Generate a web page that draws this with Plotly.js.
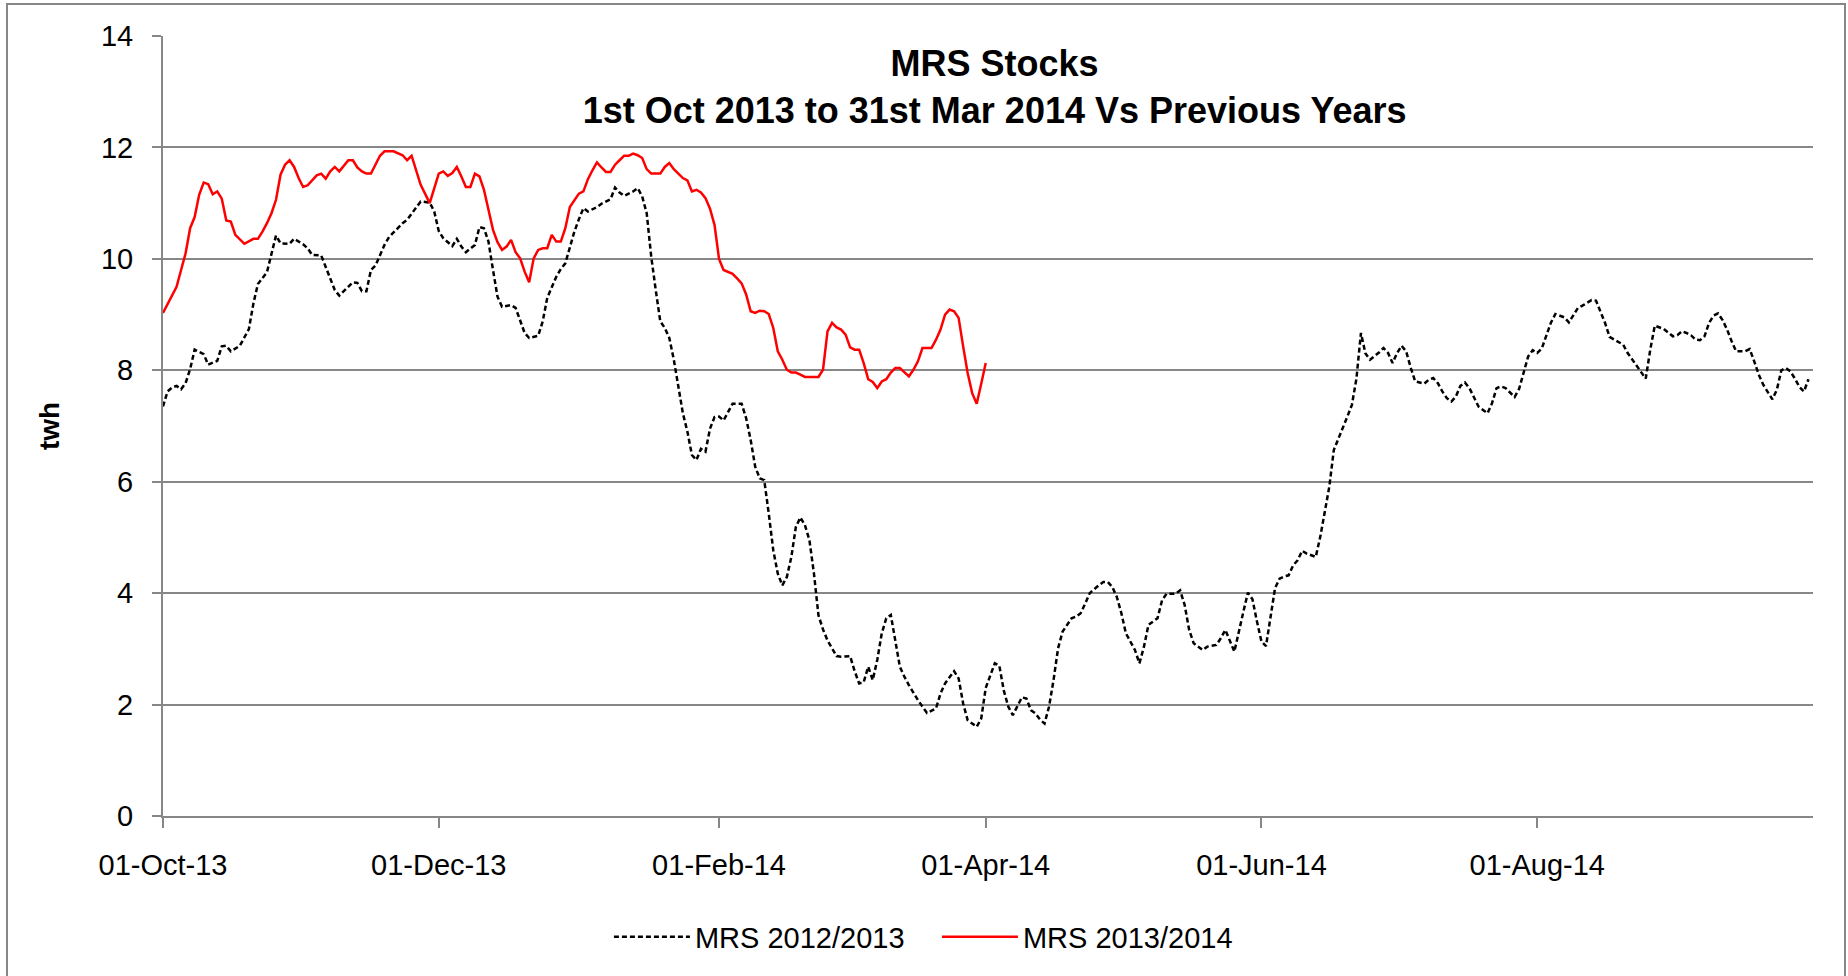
<!DOCTYPE html>
<html>
<head>
<meta charset="utf-8">
<script src="https://cdn.plot.ly/plotly-3.0.1.min.js"></script>
<style>
  html, body { margin: 0; padding: 0; background: #ffffff; }
  #wrap { position: relative; width: 1848px; height: 976px; overflow: hidden; }
  #chart { position: absolute; left: 0; top: 0; width: 1848px; height: 976px; }
  #frame { position: absolute; left: 6px; top: 3px; width: 1836px; height: 1000px;
           border: 2px solid #878787; pointer-events: none; }
</style>
</head>
<body>
<div id="wrap">
  <div id="chart"></div>
  <div id="frame"></div>
</div>
<script>
// ---- DATA ----
const startDate = "2013-10-01";           // day offset 0
const seriesNames = ["MRS 2012/2013", "MRS 2013/2014"];
const yTickValues = [0, 2, 4, 6, 8, 10, 12, 14];
const xTickDates = ["2013-10-01", "2013-12-01", "2014-02-01", "2014-04-01", "2014-06-01", "2014-08-01"];

// MRS 2012/2013 (black dashed) : day offsets from startDate and stock values (twh)
const days1213 = [0,1,2,3,4,5,6,7,9,10,12,13,14,15,17,18,19,20,21,23,24,25,26,28,29,31,32,33,35,36,38,39,40,42,43,44,45,46,47,49,50,52,53,54,56,57,59,60,61,62,64,65,66,67,69,70,71,72,73,74,75,77,78,79,80,81,83,84,85,87,88,89,90,91,92,93,94,96,97,99,100,101,102,104,105,106,107,108,109,110,111,112,113,114,115,116,117,118,119,120,121,122,123,124,125,126,128,129,130,131,132,133,134,135,136,137,138,139,140,141,142,143,144,145,146,147,148,149,150,152,153,154,155,156,157,158,159,160,161,162,163,164,165,167,168,169,171,172,173,174,175,176,177,178,180,181,182,184,185,186,187,188,189,190,191,192,193,194,195,196,197,198,199,201,202,203,204,205,207,208,209,210,211,212,213,215,216,217,218,220,221,222,224,225,226,227,228,230,231,233,234,235,237,238,239,240,241,242,243,244,245,246,247,248,249,250,251,252,253,255,256,257,258,259,260,261,262,263,264,265,266,267,268,269,270,271,272,273,274,275,276,277,279,280,281,282,283,284,285,286,287,288,289,290,291,293,294,295,296,297,299,300,301,302,303,304,305,306,307,308,310,311,312,313,314,316,317,318,319,320,321,322,323,324,325,326,327,328,329,330,332,333,334,335,336,337,338,339,340,341,342,343,344,345,346,347,348,350,351,352,353,354,356,357,358,359,360,361,362,363,364];
const values1213 = [7.35,7.62,7.69,7.72,7.66,7.77,8.02,8.37,8.29,8.10,8.17,8.43,8.44,8.34,8.44,8.58,8.74,9.20,9.55,9.76,10.10,10.42,10.28,10.27,10.36,10.26,10.19,10.07,10.06,9.86,9.44,9.34,9.42,9.58,9.57,9.42,9.42,9.80,9.88,10.25,10.39,10.55,10.64,10.70,10.93,11.03,11.01,10.85,10.50,10.37,10.23,10.36,10.22,10.12,10.25,10.57,10.55,10.31,9.80,9.32,9.14,9.17,9.12,8.90,8.67,8.58,8.62,8.88,9.30,9.68,9.82,9.92,10.22,10.49,10.71,10.91,10.85,10.93,10.99,11.07,11.28,11.19,11.13,11.21,11.27,11.12,10.82,10.04,9.44,8.88,8.76,8.58,8.19,7.71,7.23,6.90,6.48,6.39,6.59,6.54,6.95,7.16,7.17,7.10,7.26,7.40,7.40,7.14,6.75,6.27,6.06,6.03,5.43,4.77,4.35,4.14,4.29,4.65,5.19,5.36,5.22,4.95,4.35,3.60,3.35,3.15,3.01,2.87,2.86,2.87,2.60,2.38,2.40,2.68,2.44,2.80,3.28,3.55,3.61,3.16,2.68,2.50,2.35,2.08,1.96,1.85,1.93,2.20,2.38,2.50,2.60,2.47,2.02,1.72,1.60,1.75,2.30,2.74,2.70,2.25,1.96,1.81,1.98,2.13,2.11,1.90,1.84,1.73,1.66,1.96,2.44,3.01,3.31,3.55,3.58,3.64,3.81,4.00,4.14,4.20,4.20,4.11,3.93,3.64,3.28,2.98,2.74,3.04,3.43,3.55,3.87,3.99,3.99,4.05,3.79,3.34,3.10,2.98,3.04,3.07,3.19,3.34,2.95,3.34,3.67,4.01,3.89,3.49,3.13,3.05,3.60,4.09,4.26,4.30,4.32,4.50,4.59,4.76,4.71,4.65,5.01,5.43,5.91,6.57,6.76,6.96,7.17,7.38,7.85,8.67,8.30,8.19,8.25,8.32,8.40,8.31,8.13,8.31,8.44,8.34,8.05,7.80,7.76,7.83,7.86,7.77,7.62,7.50,7.44,7.53,7.72,7.78,7.68,7.50,7.35,7.23,7.41,7.68,7.71,7.68,7.52,7.67,7.95,8.25,8.36,8.31,8.39,8.62,8.85,9.01,8.95,8.86,9.00,9.12,9.16,9.26,9.25,9.05,8.85,8.60,8.55,8.50,8.46,8.31,8.19,8.07,7.96,7.85,8.37,8.80,8.74,8.67,8.61,8.63,8.70,8.67,8.63,8.55,8.54,8.61,8.85,8.98,9.02,8.90,8.73,8.52,8.34,8.34,8.38,8.16,7.92,7.74,7.48,7.65,8.00,8.04,7.98,7.85,7.70,7.62,7.84];

// MRS 2013/2014 (red solid)
const days1314 = [0,3,4,5,6,7,8,9,10,11,12,13,14,15,16,18,20,21,22,23,24,25,26,27,28,29,30,31,32,33,34,35,36,37,38,39,40,41,42,43,44,45,46,47,48,49,51,53,54,55,56,57,59,60,61,62,63,64,65,66,67,68,69,70,71,72,73,74,75,76,77,78,79,80,81,82,83,84,85,86,87,88,89,90,92,93,94,95,96,97,98,99,100,101,102,103,104,105,106,107,108,110,111,112,113,114,115,116,117,118,119,120,121,122,123,124,125,126,127,128,129,130,131,132,133,134,135,136,137,138,139,140,141,142,145,146,147,148,149,150,151,152,153,154,155,156,157,158,159,160,161,162,163,164,165,166,167,168,170,171,172,173,174,175,176,177,178,179,180,181,182];
const values1314 = [9.03,9.50,9.80,10.10,10.55,10.75,11.15,11.37,11.34,11.16,11.21,11.08,10.69,10.67,10.43,10.27,10.36,10.36,10.49,10.64,10.82,11.06,11.51,11.69,11.77,11.65,11.45,11.29,11.32,11.41,11.50,11.53,11.44,11.57,11.65,11.57,11.67,11.77,11.77,11.64,11.57,11.53,11.53,11.69,11.85,11.93,11.93,11.86,11.77,11.85,11.57,11.33,11.00,11.25,11.53,11.57,11.49,11.54,11.65,11.48,11.29,11.29,11.53,11.48,11.24,10.88,10.52,10.30,10.16,10.22,10.34,10.12,10.01,9.77,9.58,10.01,10.16,10.19,10.19,10.43,10.31,10.31,10.55,10.93,11.17,11.21,11.43,11.59,11.73,11.64,11.56,11.56,11.69,11.77,11.85,11.85,11.89,11.86,11.81,11.61,11.53,11.53,11.65,11.72,11.61,11.53,11.45,11.41,11.21,11.24,11.19,11.09,10.90,10.61,10.00,9.80,9.76,9.73,9.65,9.56,9.36,9.06,9.03,9.07,9.06,9.01,8.76,8.34,8.19,8.01,7.96,7.96,7.92,7.88,7.88,8.01,8.70,8.85,8.77,8.73,8.64,8.41,8.37,8.37,8.13,7.84,7.79,7.68,7.80,7.84,7.96,8.04,8.04,7.96,7.89,8.01,8.16,8.40,8.40,8.55,8.73,9.00,9.09,9.06,8.94,8.43,7.95,7.59,7.40,7.76,8.13];

// ---- build date strings from the day offsets ----
function toDates(offsets) {
  const base = Date.UTC(2013, 9, 1);
  return offsets.map(function (d) {
    return new Date(base + d * 86400000).toISOString().slice(0, 10);
  });
}

const FONT = '"Liberation Sans", Arial, Helvetica, sans-serif';
const GRID = '#878787';

const traces = [
  {
    type: 'scatter', mode: 'lines', name: seriesNames[0],
    x: toDates(days1213), y: values1213,
    line: { color: '#000000', width: 2.5, dash: '5px,3px' }
  },
  {
    type: 'scatter', mode: 'lines', name: seriesNames[1],
    x: toDates(days1314), y: values1314,
    line: { color: '#ff0000', width: 2.5 }
  }
];

const layout = {
  width: 1848, height: 976,
  margin: { l: 163, r: 35, t: 36, b: 160, pad: 0 },
  paper_bgcolor: '#ffffff', plot_bgcolor: '#ffffff',
  font: { family: FONT, size: 29, color: '#000000' },
  showlegend: true,
  title: {
    text: '<b>MRS Stocks</b><br><b>1st Oct 2013 to 31st Mar 2014 Vs Previous Years</b>',
    font: { family: FONT, size: 36, color: '#000000' },
    xref: 'paper', x: 0.504, xanchor: 'center',
    yref: 'container', y: 0.922, yanchor: 'top'
  },
  xaxis: {
    type: 'date',
    range: ['2013-10-01', '2014-10-01'],
    tickmode: 'array',
    tickvals: xTickDates,
    tickformat: '%d-%b-%y',
    ticks: 'outside', ticklen: 10, tickwidth: 2, tickcolor: GRID,
    showline: true, linecolor: GRID, linewidth: 2,
    showgrid: false, zeroline: false,
    ticklabelstandoff: 12,
    tickfont: { family: FONT, size: 29, color: '#000000' }
  },
  yaxis: {
    range: [0, 14],
    tickmode: 'array', tickvals: yTickValues,
    ticks: 'outside', ticklen: 9, tickwidth: 2, tickcolor: GRID,
    showline: true, linecolor: GRID, linewidth: 2,
    showgrid: true, gridcolor: GRID, gridwidth: 2,
    zeroline: false,
    ticklabelstandoff: 13,
    tickfont: { family: FONT, size: 29, color: '#000000' },
    title: { text: '<b>twh</b>', font: { family: FONT, size: 28, color: '#000000' }, standoff: 33 }
  },
  legend: {
    orientation: 'h',
    xref: 'container', x: 0.507, xanchor: 'center',
    yref: 'container', y: 0.04, yanchor: 'middle',
    font: { family: FONT, size: 29, color: '#000000' },
    bgcolor: 'rgba(0,0,0,0)',
    itemwidth: 76,
    entrywidth: 237
  }
};

Plotly.newPlot('chart', traces, layout, { displayModeBar: false, staticPlot: true });
</script>
</body>
</html>
